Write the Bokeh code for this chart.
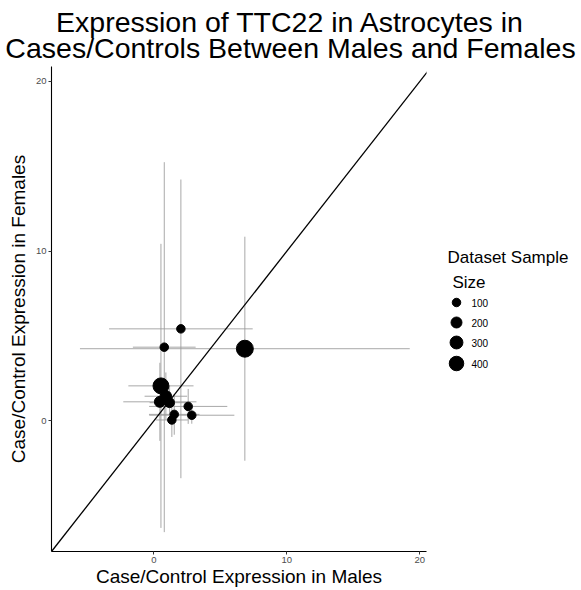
from bokeh.plotting import figure
from bokeh.layouts import column, row
from bokeh.models import Range1d, Slope, FixedTicker, ColumnDataSource
from bokeh.embed import file_html
from bokeh.resources import INLINE
from bokeh.core.properties import value

# Per-dataset case/control expression of TTC22 in astrocytes
male_expr = [2.03, 0.78, 6.84, 0.53, 0.90, 0.45, 1.18, 2.58, 2.85, 1.53, 1.35]
female_expr = [5.42, 4.34, 4.25, 2.06, 1.45, 1.12, 1.07, 0.85, 0.33, 0.38, 0.05]
male_err = [5.40, 2.36, 12.40, 2.45, 1.60, 2.75, 1.50, 2.94, 3.20, 1.90, 1.20]
female_err = [8.80, 10.90, 6.60, 8.37, 1.40, 2.30, 1.00, 1.03, 0.50, 1.20, 1.00]
sample_size = [100, 100, 580, 500, 220, 200, 150, 100, 100, 100, 100]

x_ticks = [0, 10, 20]
y_ticks = [0, 10, 20]
legend_breaks = [100, 200, 300, 400]

title_lines = ["Expression of TTC22 in Astrocytes in",
               "Cases/Controls Between Males and Females"]
x_label = "Case/Control Expression in Males"
y_label = "Case/Control Expression in Females"
legend_title = ["Dataset Sample", "Size"]

FONT = "Liberation Sans"
X_LIMITS = (-7.7, 20.5)
Y_LIMITS = (-7.7, 20.88)

TITLE_H = 66          # height of the title strip
BODY_H = 590 - TITLE_H
BORDER_TOP, BORDER_BOTTOM = 0, 39
FRAME_TOP = TITLE_H + BORDER_TOP           # page y of the panel's top edge
FRAME_BOTTOM = TITLE_H + BODY_H - BORDER_BOTTOM


def dot_diameter(n):
    """Area-style size scale: sample size -> marker diameter in pixels."""
    return 2.5 + 0.6 * n ** 0.5


def blank_panel(width, height, x0, x1, y0, y1, **kw):
    opts = dict(min_border=0)
    opts.update(kw)
    f = figure(width=width, height=height,
               x_range=Range1d(x0, x1), y_range=Range1d(y0, y1),
               output_backend="svg", toolbar_location=None,
               x_axis_location=None, y_axis_location=None,
               outline_line_color=None,
               background_fill_color="white", border_fill_color="white",
               **opts)
    f.grid.grid_line_color = None
    return f


# ---- title strip (page pixel coordinates, y downward) ----
title_fig = blank_panel(581, TITLE_H, 0, 581, TITLE_H, 0)
title_fig.text(x=[290, 290], y=[21, 47], text=title_lines,
               text_font=value(FONT), text_font_size="28.5px",
               text_align="center", text_baseline="middle", text_color="black")

# ---- main scatter panel ----
p = figure(width=436, height=BODY_H,
           x_range=Range1d(*X_LIMITS), y_range=Range1d(*Y_LIMITS),
           output_backend="svg", toolbar_location=None,
           min_border_left=51, min_border_right=10,
           min_border_top=BORDER_TOP, min_border_bottom=BORDER_BOTTOM,
           outline_line_color=None,
           background_fill_color="white", border_fill_color="white")
p.grid.grid_line_color = None

src = ColumnDataSource(dict(
    x=male_expr, y=female_expr,
    x_lo=[m - e for m, e in zip(male_expr, male_err)],
    x_hi=[m + e for m, e in zip(male_expr, male_err)],
    y_lo=[f - e for f, e in zip(female_expr, female_err)],
    y_hi=[f + e for f, e in zip(female_expr, female_err)],
    size=[dot_diameter(n) for n in sample_size],
))

# error bars
p.segment(x0="x_lo", y0="y", x1="x_hi", y1="y", source=src,
          line_color="#999999", line_alpha=0.85, line_width=1)
p.segment(x0="x", y0="y_lo", x1="x", y1="y_hi", source=src,
          line_color="#999999", line_alpha=0.85, line_width=1)

# datasets
p.scatter(x="x", y="y", size="size", source=src,
          fill_color="black", line_color="black")

# identity line
p.add_layout(Slope(gradient=1, y_intercept=0, line_color="black", line_width=1.3))

for ax, ticks, label, label_standoff in (
        (p.xaxis, x_ticks, x_label, 0), (p.yaxis, y_ticks, y_label, 4)):
    ax.ticker = FixedTicker(ticks=ticks)
    ax.axis_label = label
    ax.axis_label_text_font = FONT
    ax.axis_label_text_font_size = "19px"
    ax.axis_label_text_font_style = "normal"
    ax.axis_label_text_color = "black"
    ax.axis_label_standoff = label_standoff
    ax.major_label_text_font = FONT
    ax.major_label_text_font_size = "9.5px"
    ax.major_label_text_color = "#4D4D4D"
    ax.major_label_standoff = 2
    ax.axis_line_color = "black"
    ax.axis_line_width = 1.1
    ax.major_tick_line_color = "#333333"
    ax.major_tick_out = 3
    ax.major_tick_in = 0
    ax.minor_tick_out = 0
    ax.minor_tick_in = 0

# ---- size legend (page pixel coordinates, y downward) ----
leg = blank_panel(145, BODY_H, 436, 581, FRAME_BOTTOM, FRAME_TOP,
                  min_border_top=BORDER_TOP, min_border_bottom=BORDER_BOTTOM)
leg.text(x=[447, 452], y=[257, 282], text=legend_title,
         text_font=value(FONT), text_font_size="17px",
         text_align="left", text_baseline="middle", text_color="black")
key_y = [302, 322, 342, 363]
leg.scatter(x=[456] * len(legend_breaks), y=key_y,
            size=[dot_diameter(n) for n in legend_breaks],
            fill_color="black", line_color="black")
leg.text(x=[471] * len(legend_breaks), y=key_y,
         text=[str(b) for b in legend_breaks],
         text_font=value(FONT), text_font_size="10px",
         text_align="left", text_baseline="middle", text_color="black")

layout = column(title_fig, row(p, leg))
open("out.html", "w").write(file_html(layout, INLINE))
